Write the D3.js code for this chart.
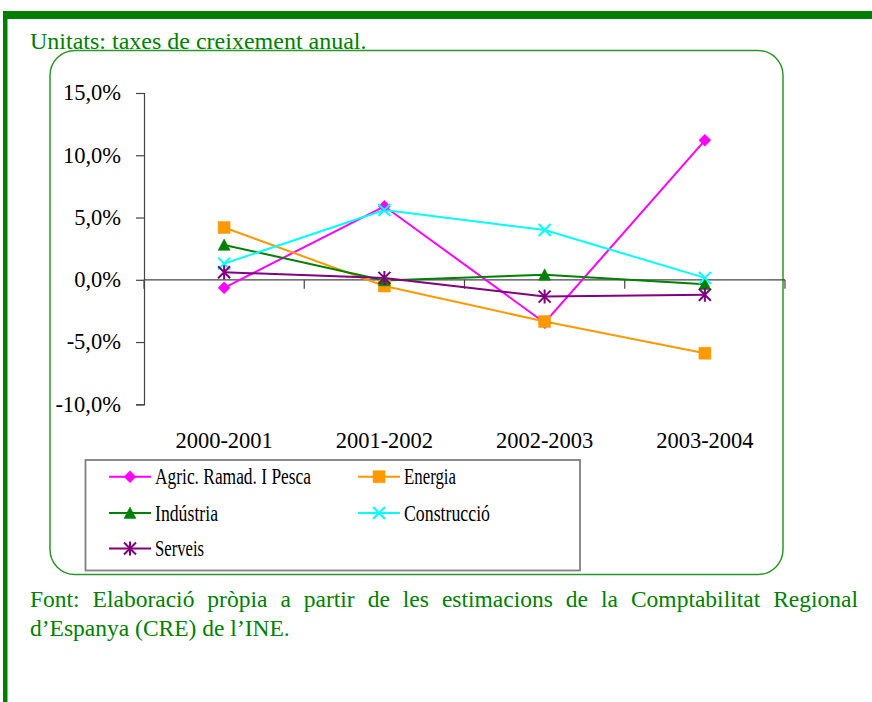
<!DOCTYPE html>
<html><head><meta charset="utf-8">
<script src="https://cdn.jsdelivr.net/npm/d3@7"></script>
<style>body{margin:0;background:#fff}svg{display:block}</style>
</head><body>
<svg id="c" width="872" height="702"></svg>
<script>
const categories = ["2000-2001", "2001-2002", "2002-2003", "2003-2004"];
const agric       = [-0.65, 5.9, -3.45, 11.2];
const energia     = [4.2, -0.5, -3.35, -5.9];
const industria   = [2.8, -0.05, 0.4, -0.35];
const construccio = [1.3, 5.6, 4.0, 0.15];
const serveis     = [0.6, 0.15, -1.35, -1.2];
const yTicks = [-10, -5, 0, 5, 10, 15];
const yTickLabels = ["-10,0%", "-5,0%", "0,0%", "5,0%", "10,0%", "15,0%"];
const seriesNames = ["Agric. Ramad. I Pesca", "Energia", "Indústria", "Construcció", "Serveis"];
const titleText = "Unitats: taxes de creixement anual.";
const footer1 = "Font: Elaboració pròpia a partir de les estimacions de la Comptabilitat Regional";
const footer2 = "d’Espanya (CRE) de l’INE.";

const series = [
  {name: seriesNames[0], values: agric,       color: "#FF00FF", marker: "diamond",  legendW: 156},
  {name: seriesNames[1], values: energia,     color: "#FF9900", marker: "square",   legendW: 52},
  {name: seriesNames[2], values: industria,   color: "#008000", marker: "triangle", legendW: 63},
  {name: seriesNames[3], values: construccio, color: "#00FFFF", marker: "x",        legendW: 86},
  {name: seriesNames[4], values: serveis,     color: "#800080", marker: "star",     legendW: 49}
];

const svg = d3.select("#c");
const serif = "Liberation Serif, Times New Roman, serif";
const green = "#008000";

// page frame bars
svg.append("rect").attr("x", 3).attr("y", 11).attr("width", 869).attr("height", 8).attr("fill", green);
svg.append("rect").attr("x", 3).attr("y", 11).attr("width", 4.5).attr("height", 691).attr("fill", green);

// rounded chart frame
svg.append("rect").attr("x", 50).attr("y", 50.5).attr("width", 733).attr("height", 524)
  .attr("rx", 25).attr("ry", 25).attr("fill", "none").attr("stroke", "#2b962b").attr("stroke-width", 1.5);

// title
svg.append("text").attr("x", 30).attr("y", 49).style("font-family", serif).attr("font-size", 24)
  .attr("fill", green).text(titleText);

// scales
const x = d3.scaleBand().domain(categories).range([144, 785]).padding(0);
const y = d3.scaleLinear().domain([-10, 15]).range([404.3, 93]);
const axisColor = "#444";

// y axis
const yAxis = d3.axisLeft(y).tickValues(yTicks).tickSize(8).tickPadding(15)
  .tickFormat((d, i) => yTickLabels[i]);
const gy = svg.append("g").attr("transform", "translate(144,0)").call(yAxis);
gy.select(".domain").attr("stroke", axisColor).attr("stroke-width", 1.2);
gy.selectAll(".tick line").attr("stroke", axisColor).attr("stroke-width", 1.2);
gy.selectAll(".tick text").style("font-family", serif).attr("font-size", 22.5).attr("fill", "#000").attr("dy", "0.3em");

// x axis line at zero
const gx = svg.append("g").attr("transform", `translate(0,${y(0)})`);
gx.append("line").attr("x1", x.range()[0]).attr("x2", x.range()[1]).attr("stroke", axisColor).attr("stroke-width", 1.2);
const bounds = categories.map(c => x(c)).concat([x.range()[1]]);
gx.selectAll("line.tk").data(bounds).join("line").attr("class", "tk")
  .attr("x1", d => d).attr("x2", d => d).attr("y1", 0).attr("y2", 9)
  .attr("stroke", axisColor).attr("stroke-width", 1.2);

// category labels at bottom
svg.append("g").selectAll("text").data(categories).join("text")
  .attr("x", d => x(d) + x.bandwidth() / 2).attr("y", 448).attr("text-anchor", "middle")
  .style("font-family", serif).attr("font-size", 22.5).attr("fill", "#000").text(d => d);

// marker shapes
function markerPath(type) {
  const s = 6;
  switch (type) {
    case "diamond": return `M0,${-s}L${s},0L0,${s}L${-s},0Z`;
    case "square": return `M${-s},${-s}H${s}V${s}H${-s}Z`;
    case "triangle": return `M0,${-s}L${s},${s*0.9}L${-s},${s*0.9}Z`;
    case "x": return `M${-s},${-s}L${s},${s}M${s},${-s}L${-s},${s}`;
    case "star": return `M${-s},${-s}L${s},${s}M${s},${-s}L${-s},${s}M0,${-s-1}V${s+1}`;
  }
}
function drawMarker(g, type, color) {
  const filled = type === "diamond" || type === "square" || type === "triangle";
  g.append("path").attr("d", markerPath(type))
    .attr("fill", filled ? color : "none")
    .attr("stroke", color).attr("stroke-width", filled ? 0.5 : 2);
}

const cx = c => x(c) + x.bandwidth() / 2;
const line = d3.line().x((d, i) => cx(categories[i])).y(d => y(d));

series.forEach(s => {
  svg.append("path").datum(s.values).attr("d", line)
    .attr("fill", "none").attr("stroke", s.color).attr("stroke-width", 2);
});
series.forEach(s => {
  s.values.forEach((v, i) => {
    const g = svg.append("g").attr("transform", `translate(${cx(categories[i])},${y(v)})`);
    drawMarker(g, s.marker, s.color);
  });
});

// legend
svg.append("rect").attr("x", 85.5).attr("y", 460).attr("width", 494.5).attr("height", 110.5)
  .attr("fill", "#fff").attr("stroke", "#808080").attr("stroke-width", 1.8);
const legPos = [
  {lx: 109, ty: 476.7}, {lx: 358, ty: 476.7},
  {lx: 109, ty: 513}, {lx: 358, ty: 513},
  {lx: 109, ty: 548.5}
];
series.forEach((s, i) => {
  const p = legPos[i];
  const g = svg.append("g");
  g.append("line").attr("x1", p.lx).attr("x2", p.lx + 42).attr("y1", p.ty).attr("y2", p.ty)
    .attr("stroke", s.color).attr("stroke-width", 2);
  const mg = g.append("g").attr("transform", `translate(${p.lx + 21},${p.ty})`);
  drawMarker(mg, s.marker, s.color);
  g.append("text").attr("x", p.lx + 46).attr("y", p.ty + 7.5)
    .style("font-family", serif).attr("font-size", 22.5).attr("fill", "#000")
    .attr("textLength", s.legendW).attr("lengthAdjust", "spacingAndGlyphs").text(s.name);
});

// footer
const f1 = svg.append("text").attr("x", 30).attr("y", 607).style("font-family", serif)
  .attr("font-size", 23.5).attr("fill", green).text(footer1);
const natural = f1.node().getComputedTextLength();
const nSpaces = footer1.split(" ").length - 1;
f1.attr("word-spacing", (828 - natural) / nSpaces);
svg.append("text").attr("x", 30).attr("y", 636).style("font-family", serif)
  .attr("font-size", 23.5).attr("fill", green).text(footer2);
</script>
</body></html>
